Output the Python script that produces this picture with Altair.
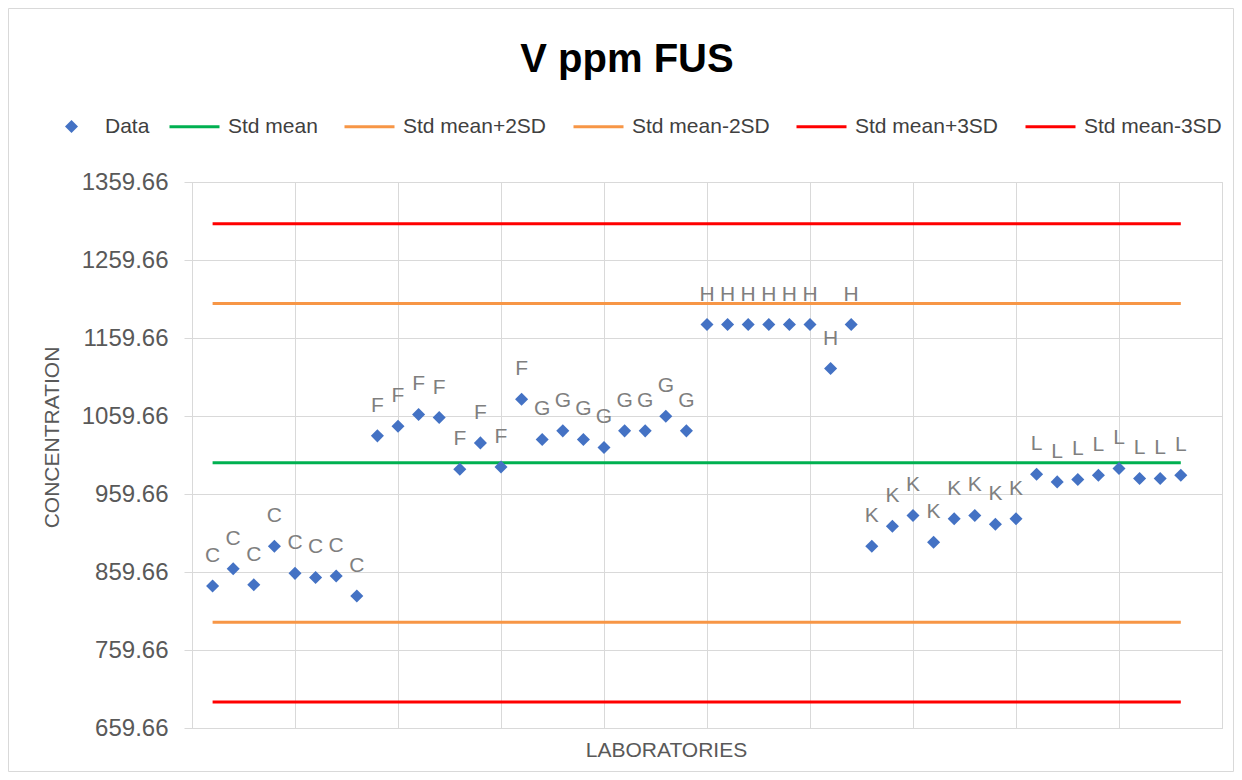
import altair as alt
import pandas as pd

# ---- data ----
lab_letters = ["C", "C", "C", "C", "C", "C", "C", "C",
               "F", "F", "F", "F", "F", "F", "F", "F",
               "G", "G", "G", "G", "G", "G", "G", "G",
               "H", "H", "H", "H", "H", "H", "H", "H",
               "K", "K", "K", "K", "K", "K", "K", "K",
               "L", "L", "L", "L", "L", "L", "L", "L"]
lab_index = list(range(1, 49))
values = [841.6, 863.8, 843.3, 892.8, 857.9, 852.7, 854.4, 828.8,
          1034.2, 1046.6, 1061.6, 1057.7, 991.5, 1025.2, 994.4, 1081.2,
          1029.6, 1040.6, 1029.6, 1019.3, 1040.6, 1040.6, 1059.4, 1040.6,
          1176.9, 1176.9, 1176.9, 1176.9, 1176.9, 1176.9, 1120.5, 1176.9,
          892.8, 918.4, 932.2, 897.9, 927.8, 932.2, 920.9, 927.8,
          985.1, 975.2, 978.3, 983.8, 992.4, 979.6, 979.6, 983.8]

ref_names = ["Std mean", "Std mean+2SD", "Std mean-2SD", "Std mean+3SD", "Std mean-3SD"]
ref_values = [999.6, 1204.0, 795.2, 1306.2, 693.0]
ref_colors = ["#00B050", "#F79646", "#F79646", "#FF0000", "#FF0000"]

data_name = "Data"
data_color = "#4472C4"

y_ticks = [659.66, 759.66, 859.66, 959.66, 1059.66, 1159.66, 1259.66, 1359.66]
x_ticks = [0, 5, 10, 15, 20, 25, 30, 35, 40, 45, 50]

FONT = "Liberation Sans"
GRID = "#D9D9D9"
TXT = "#595959"

pts = pd.DataFrame({"lab": lab_index, "value": values, "letter": lab_letters, "kind": data_name})
refs = pd.DataFrame({"series": ref_names, "value": ref_values,
                     "x1": min(lab_index), "x2": max(lab_index)})

W, H = 1030, 546
PAD = {"left": 184, "top": 174, "right": 12, "bottom": 44}

x_scale = alt.Scale(domain=[0, 50], nice=False, zero=False)
y_scale = alt.Scale(domain=[659.66, 1359.66], nice=False, zero=False)

x_axis = alt.Axis(values=x_ticks, labels=False, ticks=False, grid=True, gridColor=GRID,
                  domainColor=GRID, title="LABORATORIES", titleX=474, titleY=28,
                  titleAlign="center", titleBaseline="alphabetic", titleFontSize=21,
                  titleFont=FONT, titleColor=TXT, titleFontWeight="normal")
y_axis = alt.Axis(values=y_ticks, format=".2f", labelFontSize=24, labelFont=FONT,
                  labelColor=TXT, tickColor=GRID, tickSize=8, labelPadding=16,
                  domainColor=GRID, gridColor=GRID, title="CONCENTRATION",
                  titleX=-140, titleY=255, titleAngle=270, titleAlign="center",
                  titleBaseline="middle", titleFontSize=21, titleFont=FONT,
                  titleColor=TXT, titleFontWeight="normal")

line_legend = alt.Legend(
    title=None, orient="none", legendX=-24, legendY=-82, direction="horizontal",
    columns=5, columnPadding=20, symbolType="stroke", symbolSize=2500,
    symbolStrokeWidth=3, labelOffset=7, labelFontSize=21, labelFont=FONT,
    labelColor="#404040", labelLimit=300, padding=0,
)
data_legend = alt.Legend(
    title=None, orient="none", legendX=-131, legendY=-66, direction="horizontal",
    symbolType="diamond", symbolSize=170, symbolFillColor=data_color,
    symbolStrokeWidth=0, labelOffset=23, labelFontSize=21, labelFont=FONT,
    labelColor="#404040", labelLimit=300, padding=0,
)

rules = alt.Chart(refs).mark_rule(strokeWidth=3).encode(
    x=alt.X("x1:Q", scale=x_scale, axis=x_axis),
    x2="x2:Q",
    y=alt.Y("value:Q", scale=y_scale, axis=y_axis),
    color=alt.Color("series:N", scale=alt.Scale(domain=ref_names, range=ref_colors),
                    legend=line_legend),
)
points = alt.Chart(pts).mark_point(filled=True, size=170, opacity=1, color=data_color).encode(
    x=alt.X("lab:Q", scale=x_scale, axis=x_axis),
    y=alt.Y("value:Q", scale=y_scale, axis=y_axis),
    shape=alt.Shape("kind:N", scale=alt.Scale(domain=[data_name], range=["diamond"]),
                    legend=data_legend),
)
labels = alt.Chart(pts).mark_text(dy=-24, baseline="alphabetic", fontSize=21, font=FONT,
                                  color="#7F7F7F").encode(
    x=alt.X("lab:Q", scale=x_scale, axis=x_axis),
    y=alt.Y("value:Q", scale=y_scale, axis=y_axis),
    text="letter:N",
)
frame = alt.Chart(pd.DataFrame({"a": [0]})).mark_rect(
    fillOpacity=0, stroke=GRID, strokeWidth=1).encode(
    x=alt.value(-183.5), x2=alt.value(W + PAD["right"] - 0.5),
    y=alt.value(-173.5), y2=alt.value(H + PAD["bottom"] - 0.5),
)

chart = alt.layer(frame, rules, points, labels).properties(
    width=W, height=H, padding=PAD,
    autosize=alt.AutoSizeParams(type="none"),
    background="white",
    title=alt.TitleParams("V ppm FUS", fontSize=40, fontWeight="bold", font=FONT,
                          color="#000000", anchor="middle", frame="group", dx=-80,
                          offset=0, dy=72),
).configure_view(stroke=GRID, strokeWidth=1)

chart.save("out.html", embed_options={"renderer": "svg", "actions": False})
